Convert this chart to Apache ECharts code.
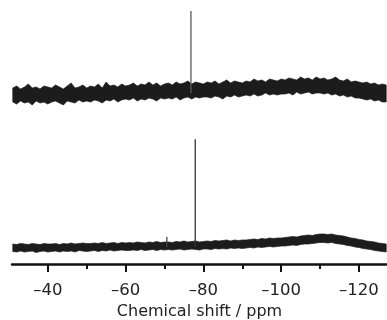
<!DOCTYPE html>
<html><head><meta charset="utf-8">
<script src="https://cdn.jsdelivr.net/npm/echarts@6/dist/echarts.min.js"></script>
<style>html,body{margin:0;padding:0;background:#fff}#c{width:387px;height:320px}</style>
</head><body><div id="c"></div>
<script>
// Sample positions (ppm), one every 1 ppm from -31 to -127
const shiftFirst = -31, shiftLast = -127;
const shifts = [];
for (let p = shiftFirst; p >= shiftLast; p--) shifts.push(p);

// Upper trace: upper / lower envelope of the noisy band (arbitrary stacked intensity units)
const topUpper = [
177,179,176,178,181,177,178,176,179,178,
177,180,178,176,179,182,177,178,180,177,
179,178,181,177,183,179,180,178,181,179,
180,182,179,181,180,183,180,182,179,181,
182,180,183,181,182,184,181,183,182,181,
183,182,184,181,183,185,182,184,183,182,
184,183,186,184,185,183,186,185,184,186,
185,187,186,185,188,186,187,185,188,186,
187,185,186,188,185,184,186,183,184,183,
182,183,181,182,180,181,180];
const topLower = [
163,161,164,162,163,160,164,162,163,161,
163,164,162,160,164,163,162,165,163,164,
163,165,164,162,165,164,166,163,165,166,
165,167,164,166,165,167,166,164,167,166,
167,166,168,165,167,168,166,168,167,168,
168,167,169,168,166,169,168,170,168,169,
170,169,171,169,170,172,170,171,170,171,
171,172,170,173,171,172,173,171,172,172,
171,172,170,171,169,170,168,169,167,167,
166,165,166,164,165,163,163];

// Lower trace envelopes
const botUpper = [
21,20.5,21.5,21,20.5,21.5,21,20.5,21.5,21,
21,21.5,20.5,21.5,21,22,21,21.5,22,21.5,
21.5,22,21.5,22.5,21.5,22,22.5,21.5,22.5,22,
22.5,22,23,22.5,22,23,22.5,23.5,22.5,23,
23,22.5,23.5,23,24,23,23.5,24,23,23.5,
24,23.5,24.5,24,24.5,25,24,25,24.5,25,
25,25.5,26,25.5,26.5,26,27,26.5,27,27,
27.5,28,28.5,28,29,29.5,30,29.5,30.5,31,
31,30.5,31,30,29.5,29,28,27,26.5,25.5,
25,24,23.5,23,22,21.5,21];
const botLower = [
13.5,13,14,13,13.5,14,12.5,13.5,14,13,
13.5,14,13,14,13.5,14,13,14.5,14,13.5,
14,14.5,13.5,14.5,14,15,14,14.5,15,14.5,
14.5,15,14.5,15.5,14.5,15,15.5,14.5,15.5,15,
15.5,15,15.5,16,15,15.5,16,15.5,15,16,
16,15.5,16.5,16,16.5,16,17,16.5,17,16.5,
17,17.5,17,18,17.5,18,18.5,18,18.5,19,
19,19.5,20,19.5,20.5,21,21,21.5,22,22.5,
22.5,22,22.5,21.5,21,20.5,19.5,19,18,17.5,
16.5,16,15.5,14.5,14,13.5,13];

// Sharp peaks: position (ppm), base and top intensity
const peakShift = [-76.8, -77.9, -70.6];
const peakBase  = [172, 18, 18];
const peakTop   = [254, 125.7, 28];
const peakColor = ['#5a5a5a', '#333333', '#444444'];

// Axis ticks
const majorTicks = [-40, -60, -80, -100, -120];
const majorLabels = ['\u201340', '\u201360', '\u201380', '\u2013100', '\u2013120'];
const minorTicks = [-50, -70, -90, -110];
const xMin = -127.2, xMax = -30.8;

const BAND = '#1c1c1c';

// Noise band drawn as one filled polygon between the two envelopes
function bandSeries(upper, lower) {
  return {
    type: 'custom', silent: true, z: 2,
    data: shifts.map((p, i) => [p, upper[i], lower[i]]),
    encode: { x: 0, y: [1, 2] },
    renderItem: function (params, api) {
      if (params.dataIndexInside !== 0) return null;
      const n = params.dataInsideLength;
      const top = [], bot = [];
      for (let k = 0; k < n; k++) {
        const x = api.value(0, k);
        top.push(api.coord([x, api.value(1, k)]));
        bot.push(api.coord([x, api.value(2, k)]));
      }
      return {
        type: 'polygon',
        shape: { points: top.concat(bot.reverse()) },
        style: { fill: BAND, stroke: BAND, lineWidth: 0.7 }
      };
    }
  };
}

const series = [
  bandSeries(topUpper, topLower),
  bandSeries(botUpper, botLower),
  ...peakShift.map((p, i) => ({
    type: 'line', symbol: 'none', silent: true, z: 3,
    data: [[p, peakBase[i]], [p, peakTop[i]]],
    lineStyle: { color: peakColor[i], width: 1.3 }
  }))
];

const FONT = 'DejaVu Sans';
const chart = echarts.init(document.getElementById('c'), null, { renderer: 'canvas' });
chart.setOption({
  animation: false,
  backgroundColor: '#ffffff',
  grid: { left: 12, right: 0, top: 0, bottom: 56, containLabel: false, outerBoundsMode: 'none' },
  xAxis: [
    {
      type: 'value', inverse: true, min: xMin, max: xMax, z: 10,
      axisLine: { onZero: false, lineStyle: { color: '#111', width: 2.5 } },
      axisTick: { customValues: majorTicks, length: 8, lineStyle: { color: '#111', width: 2 } },
      axisLabel: {
        customValues: majorTicks, margin: 18, fontSize: 16.5, fontFamily: FONT, color: '#222',
        formatter: v => majorLabels[majorTicks.indexOf(v)] || ''
      },
      splitLine: { show: false },
      name: 'Chemical shift / ppm', nameLocation: 'middle', nameGap: 38,
      nameTextStyle: { fontSize: 16, fontFamily: FONT, color: '#222' }
    },
    {
      type: 'value', inverse: true, min: xMin, max: xMax, z: 10, position: 'bottom',
      axisLine: { show: false, onZero: false },
      axisTick: { customValues: minorTicks, length: 5, lineStyle: { color: '#111', width: 2 } },
      axisLabel: { show: false },
      splitLine: { show: false }
    }
  ],
  yAxis: { type: 'value', min: 1, max: 265, show: false, splitLine: { show: false } },
  series: series
});
</script>
</body></html>
